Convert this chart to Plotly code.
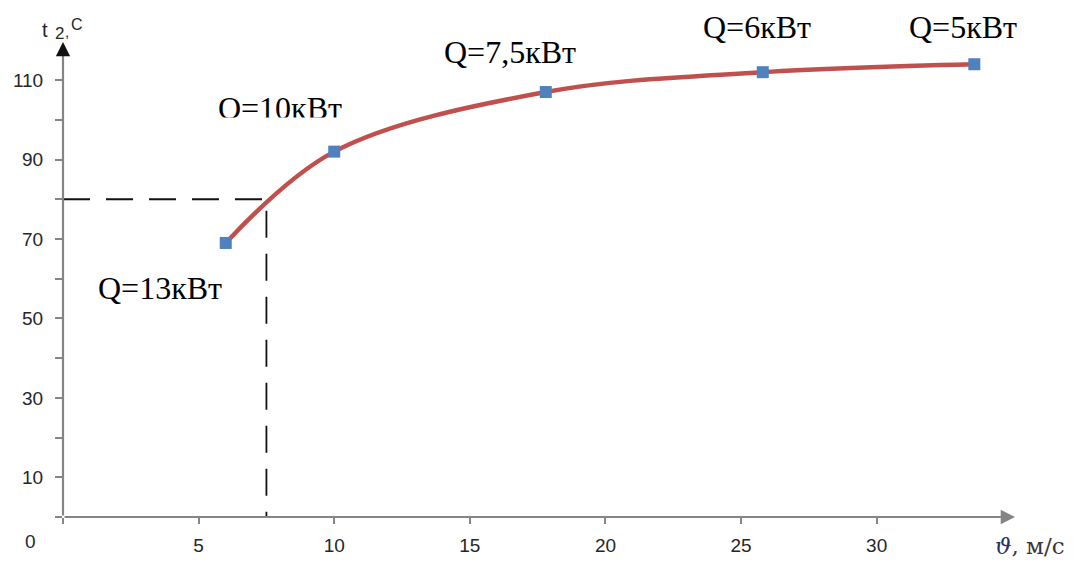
import plotly.graph_objects as go

# Data
speed = [6.0, 10.0, 17.8, 25.8, 33.6]          # ϑ, м/с
temp = [69, 92, 107, 112, 114]                  # t2, C
power_labels = ["Q=13кВт", "Q=10кВт", "Q=7,5кВт", "Q=6кВт", "Q=5кВт"]
guide_x = 7.5
guide_y = 80
x_ticks = [0, 5, 10, 15, 20, 25, 30]
x_ticktext = ["", "5", "10", "15", "20", "25", "30"]
y_ticks = [0, 10, 20, 30, 40, 50, 60, 70, 80, 90, 100, 110]
y_ticktext = ["", "10", "", "30", "", "50", "", "70", "", "90", "", "110"]
X_MAX = 35.1
Y_MAX = 119.6

W, H = 1082, 562
ML, MR, MT, MB = 63, 67, 42, 45


def px(x, y):
    """pixel position on the page -> paper coordinates (layout only)"""
    return (x - ML) / (W - ML - MR), (H - MB - y) / (H - MT - MB)


# label placement (page pixels) -- layout only
label_px = [(160, 288), None, (510, 52), (757, 27), (963, 27)]
q10_pos = (8.0, 102.3)  # data coords for the clipped label

AX = "#858585"
TXT = "#262626"

fig = go.Figure()

# dashed guide lines
fig.add_trace(go.Scatter(
    x=[0, guide_x, guide_x], y=[guide_y, guide_y, 0],
    mode="lines", line=dict(color="#111111", width=1.8, dash="27px,16px"),
    hoverinfo="skip", showlegend=False, cliponaxis=False))

# curve
fig.add_trace(go.Scatter(
    x=speed, y=temp, mode="lines",
    line=dict(color="#c0504d", width=4.5, shape="spline", smoothing=1.0),
    showlegend=False, cliponaxis=False))

# markers
fig.add_trace(go.Scatter(
    x=speed, y=temp, mode="markers",
    marker=dict(symbol="square", size=12, color="#4f81bd"),
    showlegend=False, cliponaxis=False))

# Q=10 label as text trace (bottom clipped by white box like in the original)
fig.add_trace(go.Scatter(
    x=[q10_pos[0]], y=[q10_pos[1]], mode="text", text=[power_labels[1]],
    textposition="middle center",
    textfont=dict(family="Liberation Serif", size=32, color="#000000"),
    showlegend=False, cliponaxis=False))

fig.add_shape(type="rect", xref="x", yref="y", x0=5.6, x1=10.55, y0=98.0, y1=100.6,
              fillcolor="white", line=dict(width=0), layer="above")

annotations = []
for pos, t in zip(label_px, power_labels):
    if pos is None:
        continue
    ax_, ay_ = px(*pos)
    annotations.append(dict(x=ax_, y=ay_, xref="paper", yref="paper", text=t,
                            showarrow=False, xanchor="center", yanchor="middle",
                            font=dict(family="Liberation Serif", size=32, color="#000000")))

# axes with arrows
D = dict(xref="x domain", yref="y domain", axref="x domain", ayref="y domain",
         text="", showarrow=True)
annotations.append(dict(x=1, y=0, ax=0, ay=0, arrowhead=2, arrowsize=1.3, arrowwidth=2.2,
                        arrowcolor=AX, **D))
annotations.append(dict(x=0, y=0.975, ax=0, ay=0, arrowhead=0, arrowwidth=2.2,
                        arrowcolor=AX, **D))
annotations.append(dict(x=0, y=1, ax=0, ay=0.97, arrowhead=2, arrowsize=1.3, arrowwidth=2.2,
                        arrowcolor="#111111", **D))


def text_at(t, pos, size, family="Liberation Sans", color=TXT, xanchor="center"):
    x_, y_ = px(*pos)
    annotations.append(dict(x=x_, y=y_, xref="paper", yref="paper", text=t,
                            showarrow=False, xanchor=xanchor, yanchor="middle",
                            font=dict(family=family, size=size, color=color)))


# origin label
text_at("0", (30, 541), 19)
# y axis title  t2,C
text_at("t", (45, 30), 20)
text_at("2", (59, 34), 17)
text_at(",", (67, 31), 15)
text_at("C", (77, 24), 16)
# x axis title
text_at("<i><span style='color:#24306a'>ϑ</span></i>, м/с", (993, 546), 23,
        family="DejaVu Serif", color="#3a3540", xanchor="left")

fig.update_layout(
    width=W, height=H, autosize=False,
    margin=dict(l=ML, r=MR, t=MT, b=MB, pad=0),
    paper_bgcolor="white", plot_bgcolor="white",
    annotations=annotations,
    xaxis=dict(range=[0, X_MAX], showgrid=False, zeroline=False, showline=False,
               automargin=False,
               tickmode="array", tickvals=x_ticks, ticktext=x_ticktext,
               ticks="outside", ticklen=6, tickwidth=2, tickcolor=AX,
               ticklabelstandoff=5,
               tickfont=dict(family="Liberation Sans", size=19, color=TXT)),
    yaxis=dict(range=[0, Y_MAX], showgrid=False, zeroline=False, showline=False,
               automargin=False,
               tickmode="array", tickvals=y_ticks, ticktext=y_ticktext,
               ticks="outside", ticklen=7, tickwidth=2, tickcolor=AX,
               ticklabelstandoff=8,
               tickfont=dict(family="Liberation Sans", size=19, color=TXT)),
)

fig.write_html("out.html", config={"displayModeBar": False},
               post_script="document.body.style.margin='0px';")
